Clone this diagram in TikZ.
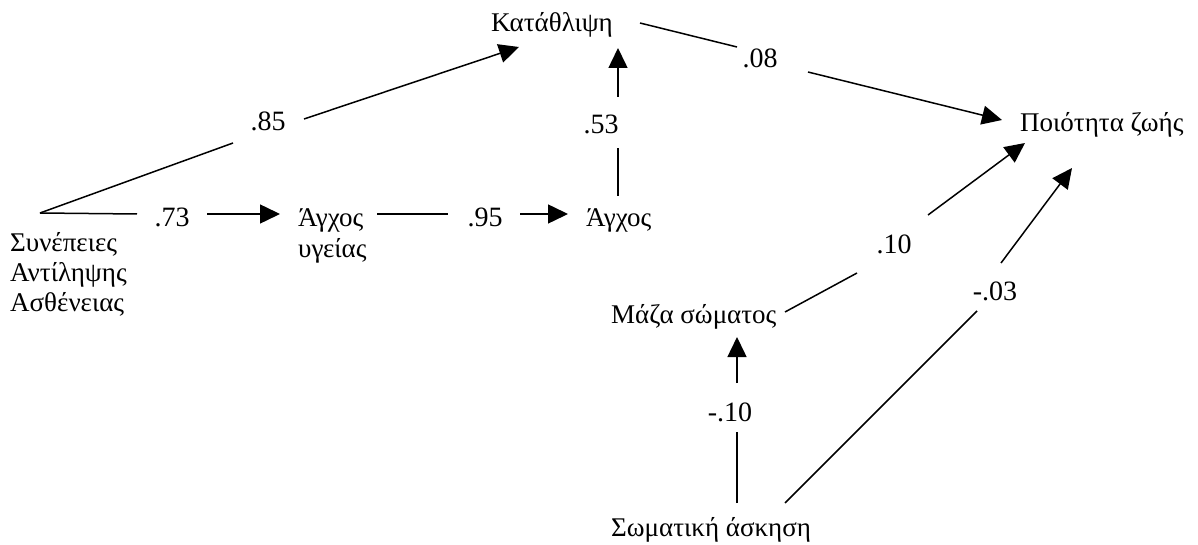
\documentclass[tikz,border=0pt]{standalone}
\usepackage{fontspec}
\setmainfont{Liberation Serif}
\usetikzlibrary{arrows.meta}
\begin{document}
\begin{tikzpicture}[x=1pt,y=-1pt,
  txt/.style={font=\fontsize{27}{30}\selectfont, inner sep=0pt, anchor=base west, align=left},
  lab/.style={font=\fontsize{28}{30}\selectfont, inner sep=0pt, anchor=base},
  conn/.style={line width=1.5pt},
  arr/.style={line width=1.5pt, -{Triangle[length=20pt,width=19pt]}}]
\useasboundingbox (0,0) rectangle (1198,545);
% nodes (multi-line nodes: base = last line)
\node[txt] (kat) at (491,32) {Κατάθλιψη};
\node[txt] (poi) at (1020,132) {Ποιότητα ζωής};
\node[txt] (syn) at (10,311) {Συνέπειες\\Αντίληψης\\Ασθένειας};
\node[txt] (agy) at (298,257) {Άγχος\\υγείας};
\node[txt] (agx) at (586,227) {Άγχος};
\node[txt] (maz) at (611,323) {Μάζα σώματος};
\node[txt] (som) at (611,536) {Σωματική άσκηση};
% labels
\node[lab] (l85) at (268,131) {.85};
\node[lab] (l73) at (172,227) {.73};
\node[lab] (l95) at (485,227) {.95};
\node[lab] (l53) at (601,134) {.53};
\node[lab] (l08) at (760,68) {.08};
\node[lab] (l10) at (894,253) {.10};
\node[lab] (l03) at (995,300) {-.03};
\node[lab] (lm10) at (730,421) {-.10};
% connector points
\coordinate (s0) at (40,213);
\coordinate (a1) at (233,143); \coordinate (a2) at (304,119); \coordinate (a3) at (519,47);
\coordinate (b1) at (137,214); \coordinate (b2) at (207,214); \coordinate (b3) at (280,214);
\coordinate (c0) at (377,214); \coordinate (c1) at (448,214); \coordinate (c2) at (520,214); \coordinate (c3) at (568,214);
\coordinate (d0) at (618,196); \coordinate (d1) at (618,148); \coordinate (d2) at (618,97); \coordinate (d3) at (618,48);
\coordinate (e0) at (640,23); \coordinate (e1) at (737,47); \coordinate (e2) at (808,72); \coordinate (e3) at (1002,120);
\coordinate (f0) at (785,312); \coordinate (f1) at (857,273); \coordinate (f2) at (928,215); \coordinate (f3) at (1025,143);
\coordinate (g0) at (785,503); \coordinate (g1) at (977,311); \coordinate (g2) at (1001,263); \coordinate (g3) at (1072,168);
\coordinate (h0) at (737,503); \coordinate (h1) at (737,432); \coordinate (h2) at (737,383); \coordinate (h3) at (737,337);
% connectors
\draw[conn] (s0) -- (a1); \draw[arr] (a2) -- (a3);
\draw[conn] (s0) -- (b1); \draw[arr] (b2) -- (b3);
\draw[conn] (c0) -- (c1); \draw[arr] (c2) -- (c3);
\draw[conn] (d0) -- (d1); \draw[arr] (d2) -- (d3);
\draw[conn] (e0) -- (e1); \draw[arr] (e2) -- (e3);
\draw[conn] (f0) -- (f1); \draw[arr] (f2) -- (f3);
\draw[conn] (g0) -- (g1); \draw[arr] (g2) -- (g3);
\draw[conn] (h0) -- (h1); \draw[arr] (h2) -- (h3);
\end{tikzpicture}
\end{document}
